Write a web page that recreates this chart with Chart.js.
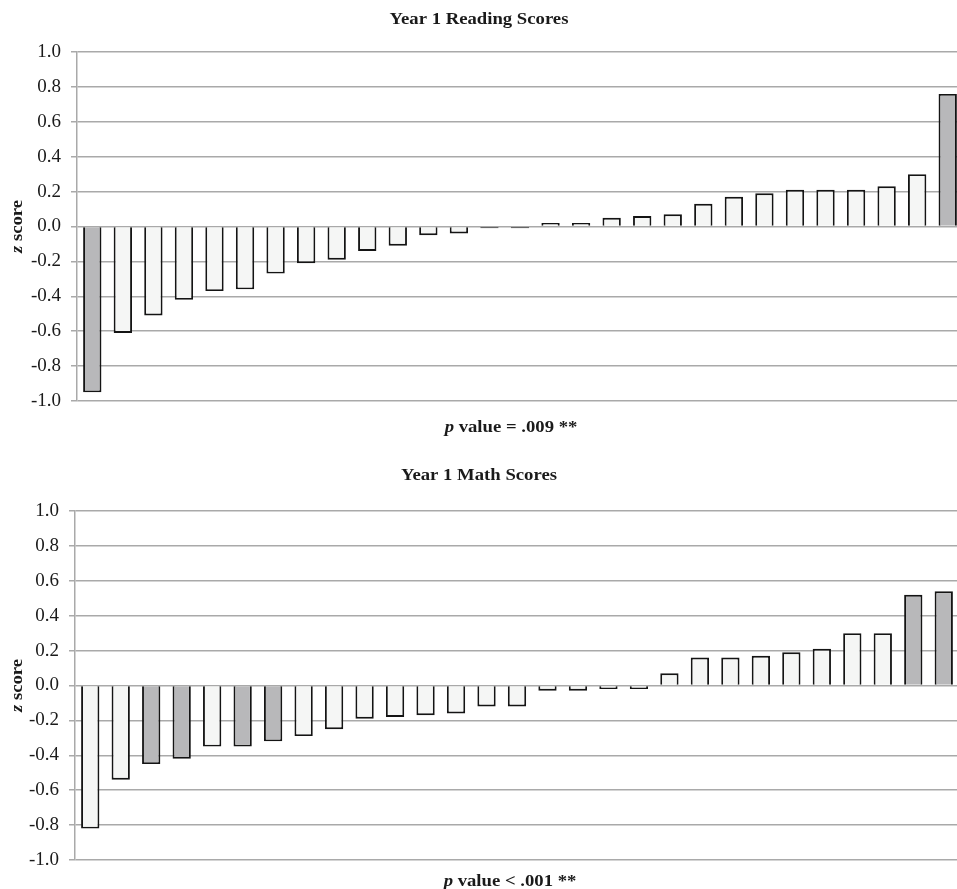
<!DOCTYPE html>
<html>
<head>
<meta charset="utf-8">
<script src="https://cdn.jsdelivr.net/npm/chart.js@4.4.1/dist/chart.umd.min.js"></script>
<style>
  html, body { margin: 0; padding: 0; background: #fff; overflow: hidden; }
  #wrap { position: relative; width: 957px; height: 889px; overflow: hidden; }
  canvas { position: absolute; left: 0; }
</style>
</head>
<body>
<div id="wrap">
  <canvas id="reading" width="964" height="440" style="top:0"></canvas>
  <canvas id="math" width="959" height="449" style="top:440px"></canvas>
</div>
<script>
// ==== Data ====
var schools = ['1','2','3','4','5','6','7','8','9','10','11','12','13','14','15',
               '16','17','18','19','20','21','22','23','24','25','26','27','28','29']

var readingScores = [-0.95, -0.61, -0.51, -0.42, -0.37, -0.36, -0.27, -0.21, -0.19, -0.14,
                     -0.11, -0.05, -0.04, -0.01, -0.01, 0.02, 0.02, 0.05, 0.06, 0.07,
                     0.13, 0.17, 0.19, 0.21, 0.21, 0.21, 0.23, 0.30, 0.76]
var readingHighlight = [1,0,0,0,0,0,0,0,0,0,0,0,0,0,0,0,0,0,0,0,0,0,0,0,0,0,0,0,1]

var mathScores = [-0.82, -0.54, -0.45, -0.42, -0.35, -0.35, -0.32, -0.29, -0.25, -0.19,
                  -0.18, -0.17, -0.16, -0.12, -0.12, -0.03, -0.03, -0.02, -0.02, 0.07,
                  0.16, 0.16, 0.17, 0.19, 0.21, 0.30, 0.30, 0.52, 0.54]
var mathHighlight = [0,0,1,1,0,1,1,0,0,0,0,0,0,0,0,0,0,0,0,0,0,0,0,0,0,0,0,1,1]

var yTicks = [-1.0, -0.8, -0.6, -0.4, -0.2, 0.0, 0.2, 0.4, 0.6, 0.8, 1.0]

var GRID = '#a9a9a9'
var TEXT = '#1a1a1a'
var FONT = '"Liberation Serif", "Times New Roman", serif'
var STRETCH = 1.1 // source text looks a bit wide

// draw a line of text made of parts, some of them italic
function richText(ctx, parts, cx, y, size) {
    var w = 0
    parts.forEach(function(p) {
        ctx.font = (p.italic ? 'italic ' : '') + 'bold ' + size + 'px ' + FONT
        p.w = ctx.measureText(p.text).width
        w += p.w
    })
    ctx.save()
    ctx.translate(cx, y)
    ctx.scale(STRETCH, 1)
    var x = -w / 2
    parts.forEach(function(p) {
        ctx.font = (p.italic ? 'italic ' : '') + 'bold ' + size + 'px ' + FONT
        ctx.fillText(p.text, x, 0)
        x += p.w
    })
    ctx.restore()
}

var textPlugin = {
    id: 'texts',
    afterDraw: function(chart, args, opts) {
        var ctx = chart.ctx
        var area = chart.chartArea
        ctx.save()
        ctx.fillStyle = TEXT
        ctx.textAlign = 'left'
        ctx.textBaseline = 'alphabetic'
        // chart title
        richText(ctx, [{text: opts.title}], 479, opts.titleY, 17)
        // x title
        richText(ctx, opts.xTitle, (area.left + 957) / 2 - 6, opts.xTitleY, 17)
        // y title (rotated)
        ctx.translate(22, (area.top + area.bottom) / 2)
        ctx.rotate(-Math.PI / 2)
        richText(ctx, [{text: 'z', italic: true}, {text: ' score'}], 0, 0, 17)
        ctx.restore()
    }
}

function makeChart(id, scores, highlight, axisWidth, pad, texts) {
    var ctx = document.getElementById(id).getContext('2d')
    var colors = highlight.map(function(h) { return h ? '#b8b8ba' : '#f5f6f5' })
    var config = {
        type: 'bar',
        data: {
            labels: schools,
            datasets: [{
                data: scores,
                backgroundColor: colors,
                borderColor: '#141414',
                borderWidth: 1.9,
                // very small bars show up as a thin dark line
                borderSkipped: function(c) { return Math.abs(c.raw) < 0.015 ? false : 'start' },
                categoryPercentage: 1.0,
                barPercentage: 0.6,
            }],
        },
        options: {
            responsive: false,
            animation: false,
            layout: { padding: pad },
            plugins: {
                legend: false,
                tooltip: { enabled: false },
                texts: texts,
            },
            scales: {
                x: { display: false },
                y: {
                    min: -1,
                    max: 1,
                    afterFit: function(scale) { scale.width = axisWidth },
                    afterBuildTicks: function(scale) {
                        scale.ticks = yTicks.map(function(v) { return { value: v } })
                    },
                    ticks: {
                        padding: 10,
                        color: TEXT,
                        font: { family: FONT, size: 19 },
                        callback: function(v) { return (Math.abs(v) < 1e-9 ? 0 : v).toFixed(1) },
                    },
                    grid: {
                        color: GRID,
                        lineWidth: 1.5,
                        tickLength: 6,
                        tickColor: GRID,
                    },
                    border: { display: true, color: GRID, width: 1.5 },
                },
            },
        },
        plugins: [textPlugin],
    }
    return new Chart(ctx, config)
}

makeChart('reading', readingScores, readingHighlight, 77,
    { top: 52, bottom: 39, left: 0, right: 1 },
    { title: 'Year 1 Reading Scores', titleY: 24,
      xTitle: [{text: 'p', italic: true}, {text: ' value = .009 **'}], xTitleY: 432 })

makeChart('math', mathScores, mathHighlight, 75,
    { top: 71, bottom: 29, left: 0, right: 0 },
    { title: 'Year 1 Math Scores', titleY: 40,
      xTitle: [{text: 'p', italic: true}, {text: ' value < .001 **'}], xTitleY: 446 })
</script>
</body>
</html>
